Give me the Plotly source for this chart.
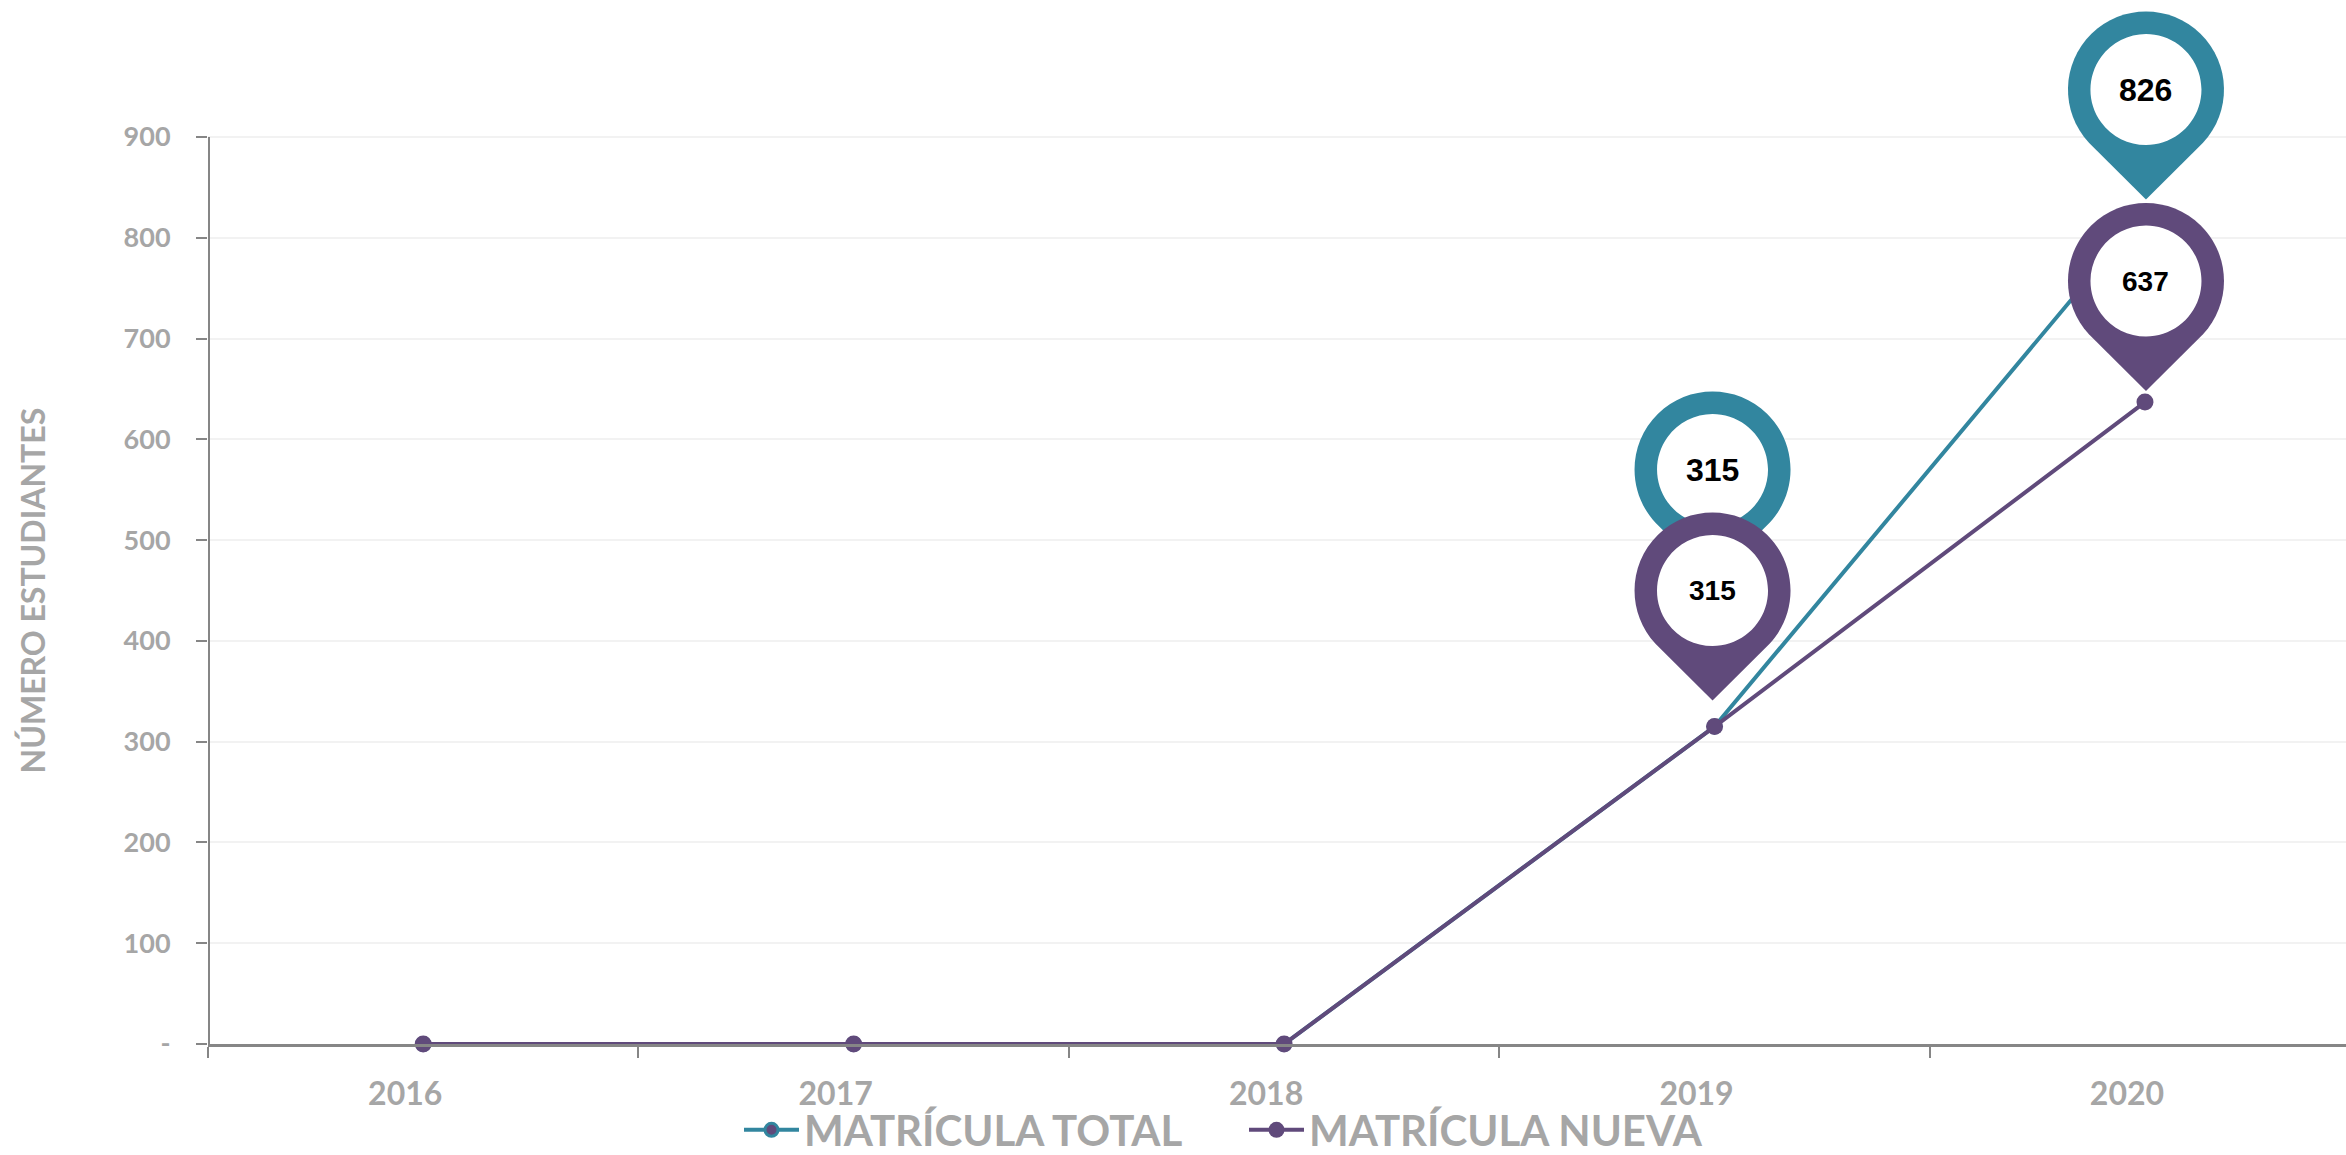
import math
import plotly.graph_objects as go

# ---- data ----
years = ["2016", "2017", "2018", "2019", "2020"]
matricula_total = [0, 0, 0, 315, 826]
matricula_nueva = [0, 0, 0, 315, 637]
y_ticks = [0, 100, 200, 300, 400, 500, 600, 700, 800, 900]
y_tick_labels = ["-", "100", "200", "300", "400", "500", "600", "700", "800", "900"]
name_total = "MATRÍCULA TOTAL"
name_nueva = "MATRÍCULA NUEVA"
y_title = "NÚMERO ESTUDIANTES"

# ---- style ----
TEAL = "#32869F"
PURPLE = "#604A7B"
GREY = "#A6A6A6"
AXIS = "#868686"
GRID = "#F2F2F2"
FONT = "Lato"
PIN_FONT = "Liberation Sans"
R_OUT, R_IN, TAIL = 78, 55.5, 110
positions = list(range(len(years)))
HEIGHT, AXIS_PX_BOTTOM = 1155, 111
PX_PER_UNIT = 907 / 900


def arc(r, a0, a1, cx, cy):
    """Cubic Bezier segments of a circular arc, in pixels relative to the anchor."""
    n = max(1, int(abs(a1 - a0) / (math.pi / 2)) + 1)
    d = (a1 - a0) / n
    k = 4 / 3 * math.tan(d / 4)
    out = []
    for i in range(n):
        s, e = a0 + i * d, a0 + (i + 1) * d
        out.append(
            "C%.2f,%.2f %.2f,%.2f %.2f,%.2f" % (
                cx + r * (math.cos(s) - k * math.sin(s)), cy + r * (math.sin(s) + k * math.cos(s)),
                cx + r * (math.cos(e) + k * math.sin(e)), cy + r * (math.sin(e) - k * math.cos(e)),
                cx + r * math.cos(e), cy + r * math.sin(e)))
    return " ".join(out)


def pin_shapes(x, value, color, lift, dx):
    a = math.radians(43)
    start = -a
    end = math.pi + a
    sx, sy = dx + R_OUT * math.cos(start), lift + R_OUT * math.sin(start)
    body = "M%.2f,%.2f %s L%.2f,%.2f Z" % (sx, sy, arc(R_OUT, start, end, dx, lift), dx, lift - TAIL)
    hole = "M%.2f,%.2f %s Z" % (dx + R_IN, lift, arc(R_IN, 0, 2 * math.pi, dx, lift))
    common = dict(type="path", xref="x", yref="y", xsizemode="pixel", ysizemode="pixel",
                  xanchor=x, yanchor=value, layer="above", line=dict(width=0))
    return [dict(path=body, fillcolor=color, **common),
            dict(path=hole, fillcolor="white", **common)]


pins = [
    (3, matricula_total, TEAL, 257, -2, 32),
    (4, matricula_total, TEAL, 122, 1, 32),
    (3, matricula_nueva, PURPLE, 136, -2, 28),
    (4, matricula_nueva, PURPLE, 121, 1, 28),
]
shapes, annotations = [], []
# y axis line stops at the last tick, while the plot area runs on to the top of the page
shapes.append(dict(type="line", xref="x", yref="y", xsizemode="pixel", xanchor=-0.5,
                   x0=1, x1=1, y0=y_ticks[0], y1=y_ticks[-1], layer="above",
                   line=dict(color=AXIS, width=2)))
for i, series, color, lift, dx, size in pins:
    shapes += pin_shapes(positions[i], series[i], color, lift, dx)
    annotations.append(dict(x=positions[i], y=series[i], xref="x", yref="y", text=str(series[i]),
                            showarrow=False, yshift=lift, xshift=dx, xanchor="center",
                            yanchor="middle",
                            font=dict(family=PIN_FONT, size=size, color="black", weight="bold")))
annotations.append(dict(xref="paper", x=0, xshift=32 - 208, xanchor="center", yref="y",
                        y=(y_ticks[0] + y_ticks[-1]) / 2, yanchor="middle", textangle=-90,
                        showarrow=False, text=y_title,
                        font=dict(family=FONT, size=32, color=GREY, weight="bold")))

fig = go.Figure()
fig.add_trace(go.Scatter(
    x=positions, y=matricula_total, name=name_total, mode="lines+markers", cliponaxis=False,
    line=dict(color=TEAL, width=4),
    marker=dict(size=13, color=PURPLE, line=dict(color=TEAL, width=3))))
fig.add_trace(go.Scatter(
    x=positions, y=matricula_nueva, name=name_nueva, mode="lines+markers", cliponaxis=False,
    line=dict(color=PURPLE, width=4),
    marker=dict(size=17, color=PURPLE)))

fig.update_layout(
    width=2346, height=HEIGHT, autosize=False,
    margin=dict(l=208, r=0, t=0, b=0, pad=0),
    paper_bgcolor="white", plot_bgcolor="white",
    font=dict(family=FONT, color=GREY),
    shapes=shapes, annotations=annotations,
    legend=dict(orientation="h", x=(739 - 208) / (2346 - 208), xanchor="left",
                y=0, yanchor="bottom",
                itemwidth=55, entrywidth=435, entrywidthmode="pixels", tracegroupgap=0,
                bgcolor="rgba(0,0,0,0)",
                font=dict(family=FONT, size=42, color=GREY, weight="bold")),
    xaxis=dict(automargin=False, range=[-0.5, 4.467], tickmode="array", tickvals=positions,
               ticktext=years, ticks="",
               minor=dict(ticks="outside", ticklen=11, tickwidth=2, tickcolor=AXIS,
                          tickmode="linear", tick0=-0.5, dtick=1),
               showline=True, linecolor=AXIS, linewidth=3,
               showgrid=False, zeroline=False, ticklabelshift=-18, ticklabelstandoff=20,
               tickfont=dict(family=FONT, size=32, color=GREY, weight="bold")),
    yaxis=dict(automargin=False, domain=[AXIS_PX_BOTTOM / HEIGHT, 1],
               range=[0, (HEIGHT - AXIS_PX_BOTTOM) / PX_PER_UNIT],
               tickmode="array", tickvals=y_ticks, ticktext=y_tick_labels,
               ticks="outside", ticklen=11, tickwidth=2, tickcolor=AXIS,
               showline=False,
               showgrid=True, gridcolor=GRID, gridwidth=2, zeroline=False,
               ticklabelstandoff=20,
               tickfont=dict(family=FONT, size=27, color=GREY, weight="bold")),
)

nudge = """
document.body.style.margin='0';
var l=document.querySelector('.legend');
var m=l.getAttribute('transform').match(/translate\\(([^,]+),\\s*([^)]+)\\)/);
l.setAttribute('transform','translate('+m[1]+','+(parseFloat(m[2])+9)+')');
"""
fig.write_html("out.html", config=dict(displayModeBar=False), post_script=nudge)
